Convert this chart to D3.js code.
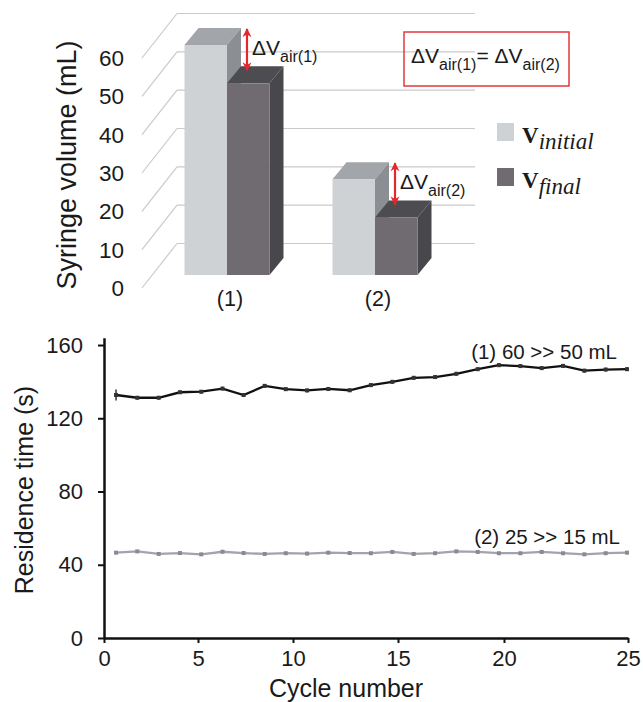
<!DOCTYPE html>
<html>
<head>
<meta charset="utf-8">
<script src="https://cdn.jsdelivr.net/npm/d3@7"></script>
<style>
body { margin: 0; background: #fff; }
text { font-family: "Liberation Sans", Arial, sans-serif; fill: #1a1a1a; }
.serif { font-family: "Liberation Serif", "Times New Roman", serif; }
</style>
</head>
<body>
<div id="chart"></div>
<script>
// top panel: syringe volume before / after
var groups = ["(1)", "(2)"];
var vInitial = [60, 25];
var vFinal = [50, 15];
var volTicks = [0, 10, 20, 30, 40, 50, 60];

// bottom panel: residence time per cycle
var cycles = [0.64, 1.77, 2.91, 4.04, 5.17, 6.29, 7.40, 8.51, 9.62, 10.67, 11.68, 12.70, 13.71,
  14.73, 15.74, 16.75, 17.75, 18.76, 19.76, 20.66, 21.52, 22.38, 23.24, 24.10, 24.96];
var time60to50 = [132.7, 131.2, 131.2, 134.2, 134.5, 136.2, 132.7, 137.7, 135.9, 135.2, 136.0, 135.3, 138.1,
  139.9, 142.1, 142.5, 144.3, 146.8, 149.0, 148.5, 147.4, 148.6, 146.0, 146.6, 146.8];
var err60to50 = [3, 1, 1, 1, 1, 1, 1, 1, 1, 1, 1, 1, 1, 1, 1, 1, 1, 1, 1, 1, 1, 1, 1, 1, 1];
var time25to15 = [46.6, 47.3, 45.9, 46.4, 45.7, 47.1, 46.4, 45.9, 46.3, 46.1, 46.6, 46.4, 46.3,
  47.0, 45.9, 46.3, 47.3, 47.0, 46.3, 46.3, 47.0, 46.3, 45.7, 46.3, 46.6];
var err25to15 = [0.5, 0.5, 0.5, 0.5, 0.5, 0.5, 0.5, 0.5, 0.5, 0.5, 0.5, 0.5, 0.5,
  0.5, 0.5, 0.5, 0.5, 0.5, 0.5, 0.5, 0.5, 0.5, 0.5, 0.5, 0.5];
var cycleTicks = [0, 5, 10, 15, 20, 25];
var timeTicks = [0, 40, 80, 120, 160];
var lineLabels = ["(1) 60 >> 50 mL", "(2) 25 >> 15 mL"];

var svg = d3.select("#chart").append("svg")
  .attr("width", 643)
  .attr("height", 702);

var defs = svg.append("defs");
defs.append("marker")
  .attr("id", "head")
  .attr("viewBox", "0 0 10 10")
  .attr("refX", 9).attr("refY", 5)
  .attr("markerUnits", "userSpaceOnUse")
  .attr("markerWidth", 9).attr("markerHeight", 10)
  .attr("orient", "auto-start-reverse")
  .append("path")
  .attr("d", "M0,0 L10,5 L0,10 L3,5 z")
  .attr("fill", "#e5262b");

// ---------- top: 3D bar chart ----------
var yVol = d3.scaleLinear().domain([0, 60]).range([275, 45]);
var xGroup = d3.scalePoint().domain(groups).range([153, 449]).padding(0.5);
var barW = 42.5;
var depth = { dx: 14, dy: -17 };
var backWall = { x0: 177, x1: 475, dy: -31.5 };
var frontEdge = { x: 142, dy: 13 };

var grid = svg.append("g");
grid.selectAll("line.back")
  .data(volTicks)
  .enter()
  .append("line")
  .attr("class", "back")
  .attr("x1", backWall.x0)
  .attr("x2", backWall.x1)
  .attr("y1", d => yVol(d) + backWall.dy)
  .attr("y2", d => yVol(d) + backWall.dy)
  .attr("stroke", "#cacaca")
  .attr("stroke-width", 1.2);
grid.selectAll("line.diag")
  .data(volTicks)
  .enter()
  .append("line")
  .attr("class", "diag")
  .attr("x1", frontEdge.x)
  .attr("y1", d => yVol(d) + frontEdge.dy)
  .attr("x2", backWall.x0)
  .attr("y2", d => yVol(d) + backWall.dy)
  .attr("stroke", "#cacaca")
  .attr("stroke-width", 1.2);

svg.append("g").selectAll("text")
  .data(volTicks)
  .enter()
  .append("text")
  .attr("x", 124)
  .attr("y", d => yVol(d) + frontEdge.dy)
  .attr("dy", "0.36em")
  .attr("text-anchor", "end")
  .style("font-size", "22.5px")
  .text(d => d);

svg.append("text")
  .attr("transform", "translate(76,165) rotate(-90)")
  .attr("text-anchor", "middle")
  .style("font-size", "27px")
  .text("Syringe volume (mL)");

var barSeries = [
  { vals: vInitial, off: -barW, front: "#cfd2d5", top: "#a2a5a9", side: "#8b8e92" },
  { vals: vFinal, off: 0, front: "#6f6b70", top: "#4d4d51", side: "#48484c" }
];

function drawBox(g, x0, v, s) {
  var yv = yVol(v), y0 = yVol(0);
  g.append("polygon")
    .attr("points", [[x0, yv], [x0 + depth.dx, yv + depth.dy], [x0 + barW + depth.dx, yv + depth.dy], [x0 + barW, yv]].join(" "))
    .attr("fill", s.top);
  g.append("polygon")
    .attr("points", [[x0 + barW, yv], [x0 + barW + depth.dx, yv + depth.dy], [x0 + barW + depth.dx, y0 + depth.dy], [x0 + barW, y0]].join(" "))
    .attr("fill", s.side);
  g.append("rect")
    .attr("x", x0)
    .attr("y", yv)
    .attr("width", barW)
    .attr("height", y0 - yv)
    .attr("fill", s.front);
}

var bars = svg.append("g");
groups.forEach(function(gname, i) {
  barSeries.forEach(function(s) {
    drawBox(bars, xGroup(gname) + s.off, s.vals[i], s);
  });
});

svg.append("g").selectAll("text")
  .data(groups)
  .enter()
  .append("text")
  .attr("x", d => xGroup(d) + 3)
  .attr("y", 306)
  .attr("text-anchor", "middle")
  .style("font-size", "21.5px")
  .text(d => d);

// delta V arrows
groups.forEach(function(gname, i) {
  var ax = xGroup(gname) + 20;
  var y1 = yVol(vInitial[i]) + depth.dy + 1;
  var y2 = yVol(vFinal[i]) + depth.dy + 4;
  svg.append("line")
    .attr("x1", ax).attr("x2", ax)
    .attr("y1", y1).attr("y2", y2)
    .attr("stroke", "#e5262b")
    .attr("stroke-width", 2.2)
    .attr("marker-start", "url(#head)")
    .attr("marker-end", "url(#head)");
  var t = svg.append("text")
    .attr("x", ax + 5)
    .attr("y", (y1 + y2) / 2 + 5)
    .style("font-size", "21px");
  t.append("tspan").text("ΔV");
  t.append("tspan").attr("dy", 7).style("font-size", "16px").text("air" + gname);
});

svg.append("rect")
  .attr("x", 404).attr("y", 32)
  .attr("width", 165).attr("height", 54)
  .attr("fill", "none")
  .attr("stroke", "#e2383c")
  .attr("stroke-width", 1.5);
var eq = svg.append("text").attr("x", 411).attr("y", 63).style("font-size", "21px");
eq.append("tspan").text("ΔV");
eq.append("tspan").attr("dy", 7).style("font-size", "16px").text("air" + groups[0]);
eq.append("tspan").attr("dy", -7).text("= ΔV");
eq.append("tspan").attr("dy", 7).style("font-size", "16px").text("air" + groups[1]);

// legend
var legendItems = [
  { sub: "initial", color: barSeries[0].front },
  { sub: "final", color: barSeries[1].front }
];
var legend = svg.append("g").attr("transform", "translate(497,123)");
legendItems.forEach(function(d, i) {
  legend.append("rect")
    .attr("x", 0).attr("y", i * 45)
    .attr("width", 17).attr("height", 18)
    .attr("fill", d.color);
  var t = legend.append("text")
    .attr("class", "serif")
    .attr("x", 25).attr("y", i * 45 + 20)
    .style("font-size", "23px");
  t.append("tspan").style("font-weight", "bold").text("V");
  t.append("tspan").attr("dy", 6).style("font-style", "italic").text(d.sub);
});

// ---------- bottom: residence time ----------
var xCyc = d3.scaleLinear().domain(cycleTicks).range([104, 198, 293, 398, 504, 628]);
var yTime = d3.scaleLinear().domain([0, 164]).range([638, 337.7]);

var xAxis = svg.append("g")
  .attr("transform", "translate(0,638)")
  .call(d3.axisBottom(xCyc).tickValues(cycleTicks).tickSize(5).tickSizeOuter(0).tickPadding(7));
var yAxis = svg.append("g")
  .attr("transform", "translate(104,0)")
  .call(d3.axisLeft(yTime).tickValues(timeTicks).tickSize(6).tickSizeOuter(0).tickPadding(15));
[xAxis, yAxis].forEach(function(a) {
  a.select(".domain").attr("stroke", "#111").attr("stroke-width", 2.5);
  a.selectAll(".tick line").attr("stroke", "#111").attr("stroke-width", 2);
  a.selectAll(".tick text")
    .attr("fill", "#1a1a1a")
    .style("font-size", "22px")
    .style("font-family", "'Liberation Sans', Arial, sans-serif");
});

svg.append("text")
  .attr("transform", "translate(33,490) rotate(-90)")
  .attr("text-anchor", "middle")
  .style("font-size", "25px")
  .text("Residence time (s)");
svg.append("text")
  .attr("x", 346).attr("y", 697)
  .attr("text-anchor", "middle")
  .style("font-size", "25px")
  .text("Cycle number");

var lineSeries = [
  { vals: time60to50, err: err60to50, color: "#111111", marker: "#333333" },
  { vals: time25to15, err: err25to15, color: "#a3a3ad", marker: "#8a8a94" }
];
var line = d3.line()
  .x((d, i) => xCyc(cycles[i]))
  .y(d => yTime(d));

lineSeries.forEach(function(s) {
  var g = svg.append("g");
  g.append("path")
    .datum(s.vals)
    .attr("d", line)
    .attr("fill", "none")
    .attr("stroke", s.color)
    .attr("stroke-width", 2.3);
  g.selectAll("line.err")
    .data(s.vals)
    .enter()
    .append("line")
    .attr("class", "err")
    .attr("x1", (d, i) => xCyc(cycles[i]))
    .attr("x2", (d, i) => xCyc(cycles[i]))
    .attr("y1", (d, i) => yTime(d + s.err[i]))
    .attr("y2", (d, i) => yTime(d - s.err[i]))
    .attr("stroke", s.marker)
    .attr("stroke-width", 1.5);
  g.selectAll("rect")
    .data(s.vals)
    .enter()
    .append("rect")
    .attr("x", (d, i) => xCyc(cycles[i]) - 2)
    .attr("y", d => yTime(d) - 2)
    .attr("width", 4)
    .attr("height", 4)
    .attr("fill", s.marker);
});

svg.append("text")
  .attr("x", 617).attr("y", 359)
  .attr("text-anchor", "end")
  .style("font-size", "20.5px")
  .text(lineLabels[0]);
svg.append("text")
  .attr("x", 620).attr("y", 544)
  .attr("text-anchor", "end")
  .style("font-size", "20.5px")
  .text(lineLabels[1]);
</script>
</body>
</html>
